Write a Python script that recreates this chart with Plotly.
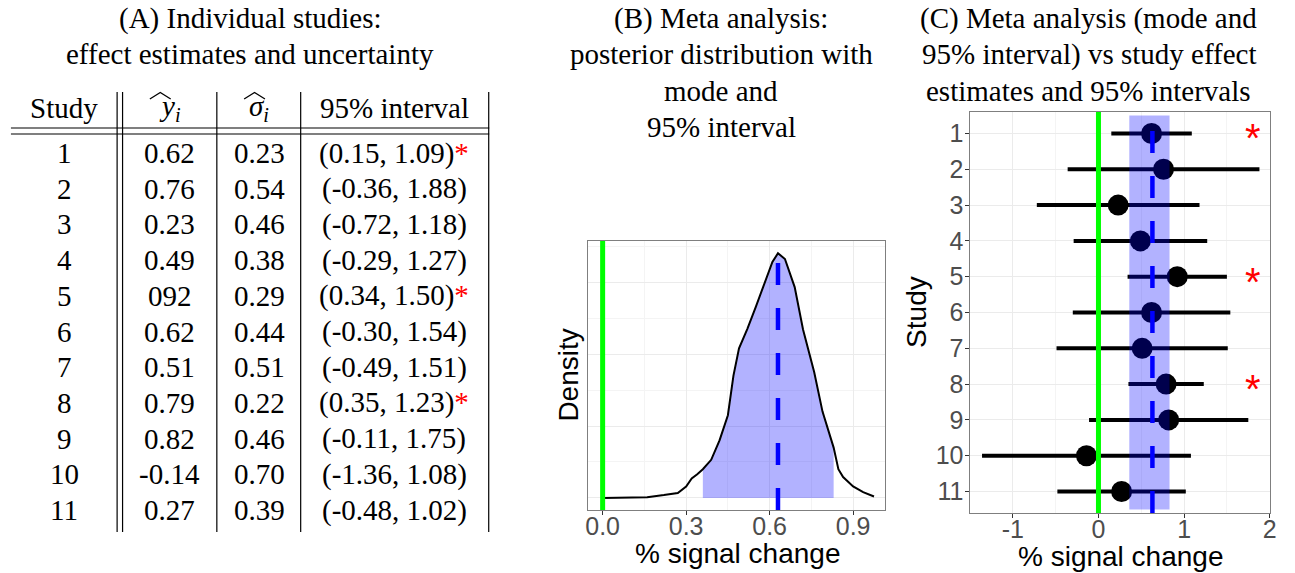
import plotly.graph_objects as go

# ---------------- data ----------------
studies = list(range(1, 12))
y_hat = [0.62, 0.76, 0.23, 0.49, 0.92, 0.62, 0.51, 0.79, 0.82, -0.14, 0.27]
y_hat_labels = ["0.62", "0.76", "0.23", "0.49", "092", "0.62", "0.51", "0.79", "0.82", "-0.14", "0.27"]
sigma_hat = [0.23, 0.54, 0.46, 0.38, 0.29, 0.44, 0.51, 0.22, 0.46, 0.70, 0.39]
ci_lo = [0.15, -0.36, -0.72, -0.29, 0.34, -0.30, -0.49, 0.35, -0.11, -1.36, -0.48]
ci_hi = [1.09, 1.88, 1.18, 1.27, 1.50, 1.54, 1.51, 1.23, 1.75, 1.08, 1.02]

# posterior density of the meta-analytic effect
dens_x = [0.00, 0.08, 0.16, 0.22, 0.27, 0.30, 0.32, 0.34, 0.36, 0.39, 0.42, 0.45, 0.47,
          0.49, 0.52, 0.55, 0.58, 0.61, 0.63, 0.655, 0.69, 0.72, 0.76, 0.79, 0.83, 0.847,
          0.864, 0.90, 0.936, 0.975]
dens_y = [0.00, 0.00, 0.01, 0.04, 0.07, 0.16, 0.27, 0.33, 0.40, 0.53, 0.80, 1.15, 1.70,
          2.08, 2.35, 2.65, 2.98, 3.28, 3.40, 3.32, 2.93, 2.34, 1.75, 1.20, 0.70, 0.40,
          0.29, 0.16, 0.08, 0.02]
meta_mode = 0.63
meta_lo = 0.36
meta_hi = 0.83

# ---------------- layout helpers ----------------
W, H = 1295, 573
def fx(p):
    return p / W
def fy(p):
    return 1 - p / H

SERIF = "Liberation Serif"
SANS = "Liberation Sans"
BLUE_FILL = "rgba(0,0,255,0.3)"
GREEN = "#00FF00"
GRID = "#EBEBEB"
GRID_MINOR = "#F4F4F4"
BORDER = "#7F7F7F"

fig = go.Figure()

# ---------------- Panel B ----------------
fx_fill = [x for x in dens_x if meta_lo <= x <= meta_hi]
fy_fill = [y for x, y in zip(dens_x, dens_y) if meta_lo <= x <= meta_hi]
fig.add_trace(go.Scatter(x=fx_fill, y=fy_fill, fill="tozeroy", fillcolor=BLUE_FILL,
                         line=dict(width=0), mode="lines", xaxis="x", yaxis="y",
                         hoverinfo="skip", showlegend=False))
fig.add_trace(go.Scatter(x=dens_x, y=dens_y, mode="lines", line=dict(color="black", width=2),
                         xaxis="x", yaxis="y", showlegend=False))

# ---------------- Panel C ----------------
seg_x, seg_y = [], []
for s, lo, hi in zip(studies, ci_lo, ci_hi):
    seg_x += [lo, hi, None]
    seg_y += [s, s, None]
fig.add_trace(go.Scatter(x=seg_x, y=seg_y, mode="lines", line=dict(color="black", width=4),
                         xaxis="x2", yaxis="y2", showlegend=False))
fig.add_trace(go.Scatter(x=y_hat, y=studies, mode="markers",
                         marker=dict(color="black", size=21, line=dict(width=0)),
                         xaxis="x2", yaxis="y2", showlegend=False))

shapes = []
# panel B lines
shapes.append(dict(type="line", xref="x", yref="y domain", x0=0, x1=0, y0=0, y1=1,
                   line=dict(color=GREEN, width=5), layer="above"))
shapes.append(dict(type="line", xref="x", yref="y domain", x0=meta_mode, x1=meta_mode, y0=0, y1=1,
                   line=dict(color="blue", width=4.5, dash="22px,23px"), layer="above"))
# panel C
shapes.append(dict(type="line", xref="x2", yref="y2 domain", x0=0, x1=0, y0=0, y1=1,
                   line=dict(color=GREEN, width=5), layer="above"))
shapes.append(dict(type="rect", xref="x2", yref="y2", x0=meta_lo, x1=meta_hi, y0=0.5, y1=11.5,
                   fillcolor=BLUE_FILL, line=dict(width=0), layer="above"))
shapes.append(dict(type="line", xref="x2", yref="y2 domain", x0=meta_mode, x1=meta_mode, y0=0, y1=1,
                   line=dict(color="blue", width=4.5, dash="22px,23px"), layer="above"))

# ---------------- Panel A table lines ----------------
TL, TR = 8, 490
for yy in (128, 134):
    shapes.append(dict(type="line", xref="paper", yref="paper", x0=fx(TL), x1=fx(TR),
                       y0=fy(yy), y1=fy(yy), line=dict(color="black", width=1.2)))
for xx in (115, 120.5, 215.5, 300, 489.5):
    shapes.append(dict(type="line", xref="paper", yref="paper", x0=fx(xx), x1=fx(xx),
                       y0=fy(92), y1=fy(532), line=dict(color="black", width=1.2)))
# wide hats over y and sigma in the header
for hx0 in (148, 243):
    shapes.append(dict(type="path", xref="paper", yref="paper",
                       path="M %f,%f L %f,%f L %f,%f" % (fx(hx0), fy(99), fx(hx0 + 10.5), fy(92.5),
                                                         fx(hx0 + 21), fy(99)),
                       line=dict(color="black", width=1.3)))

annotations = []
def add_text(text, x, y, size, family=SERIF, color="black", angle=0, xanchor="center"):
    annotations.append(dict(text=text, x=fx(x), y=fy(y), xref="paper", yref="paper",
                            xanchor=xanchor, yanchor="middle", showarrow=False, textangle=angle,
                            font=dict(family=family, size=size, color=color)))

# titles
TS = 29
for i, t in enumerate(["(A) Individual studies:", "effect estimates and uncertainty"]):
    add_text(t, 249, 18 + 36.5 * i, TS)
for i, t in enumerate(["(B) Meta analysis:", "posterior distribution with", "mode and", "95% interval"]):
    add_text(t, 724, 18 + 36.5 * i, TS)
for i, t in enumerate(["(C) Meta analysis (mode and", "95% interval) vs study effect",
                       "estimates and 95% intervals"]):
    add_text(t, 1094, 18 + 36.5 * i, TS)

# table header
FS = 29
col_x = [61.5, 168, 258, 394.5]
headers = ["Study", "<i>y</i><sub><i>i</i></sub>", "<i>σ</i><sub><i>i</i></sub>", "95% interval"]
for cx, h in zip(col_x, headers):
    add_text(h, cx, 108, FS)

# table rows
for k, s in enumerate(studies):
    yy = 153 + 35.7 * k
    star = "<span style='color:red'>*</span>" if ci_lo[k] > 0 else ""
    cells = [str(s), y_hat_labels[k], "%.2f" % sigma_hat[k],
             "(%.2f, %.2f)%s" % (ci_lo[k], ci_hi[k], star)]
    for cx, c in zip(col_x, cells):
        add_text(c, cx, yy, FS)

# axis titles
add_text("% signal change", 740, 553, 28, family=SANS)
add_text("% signal change", 1126, 556, 28, family=SANS)
add_text("Density", 569, 375, 28, family=SANS, angle=-90)
add_text("Study", 920, 312, 28, family=SANS, angle=-90)

# significance stars in panel C
for s, lo in zip(studies, ci_lo):
    if lo > 0:
        annotations.append(dict(text="*", x=1.8, y=s, xref="x2", yref="y2", showarrow=False,
                                xanchor="center", yanchor="middle", yshift=-5,
                                font=dict(family=SANS, size=40, color="red")))

tickfont = dict(family=SANS, size=25, color="#4D4D4D")

fig.update_layout(
    width=W, height=H,
    margin=dict(l=0, r=0, t=0, b=0),
    paper_bgcolor="white", plot_bgcolor="white",
    showlegend=False,
    shapes=shapes, annotations=annotations,
    xaxis=dict(domain=[fx(590), fx(889)], range=[-0.051, 1.015],
               tickvals=[0, 0.3, 0.6, 0.9], ticktext=["0.0", "0.3", "0.6", "0.9"],
               tickfont=tickfont, ticks="outside", ticklen=4, tickcolor="#333333",
               ticklabelstandoff=-10,
               showgrid=True, gridcolor=GRID, gridwidth=1.3, zeroline=False,
               showline=True, linecolor=BORDER, linewidth=1, mirror=True,
               minor=dict(tickvals=[0.15, 0.45, 0.75], showgrid=True, gridcolor=GRID_MINOR,
                          gridwidth=0.8, ticks=""),
               anchor="y"),
    yaxis=dict(domain=[fy(510), fy(241)], range=[-0.167, 3.57],
               tickvals=[0, 1, 2, 3], showticklabels=False, ticks="",
               showgrid=True, gridcolor=GRID, gridwidth=1.3, zeroline=False,
               showline=True, linecolor=BORDER, linewidth=1, mirror=True,
               minor=dict(tickvals=[0.5, 1.5, 2.5, 3.5], showgrid=True, gridcolor=GRID_MINOR,
                          gridwidth=0.8, ticks=""),
               anchor="x"),
    xaxis2=dict(domain=[fx(975), fx(1277)], range=[-1.495, 2.005],
                tickvals=[-1, 0, 1, 2], ticktext=["-1", "0", "1", "2"],
                tickfont=tickfont, ticks="outside", ticklen=4, tickcolor="#333333",
                ticklabelstandoff=-10,
                showgrid=True, gridcolor=GRID, gridwidth=1.3, zeroline=False,
                showline=True, linecolor=BORDER, linewidth=1, mirror=True,
                minor=dict(tickvals=[-0.5, 0.5, 1.5], showgrid=True, gridcolor=GRID_MINOR,
                           gridwidth=0.8, ticks=""),
                anchor="y2"),
    yaxis2=dict(domain=[fy(513), fy(112)], range=[11.6, 0.4],
                tickvals=studies, ticktext=[str(s) for s in studies],
                tickfont=tickfont, ticks="outside", ticklen=4, tickcolor="#333333",
                ticklabelstandoff=-3,
                showgrid=True, gridcolor=GRID, gridwidth=1.3, zeroline=False,
                showline=True, linecolor=BORDER, linewidth=1, mirror=True,
                anchor="x2"),
)

fig.write_html("out.html", config={"displayModeBar": False},
               post_script="document.body.style.margin='0';document.body.style.overflow='hidden';")
